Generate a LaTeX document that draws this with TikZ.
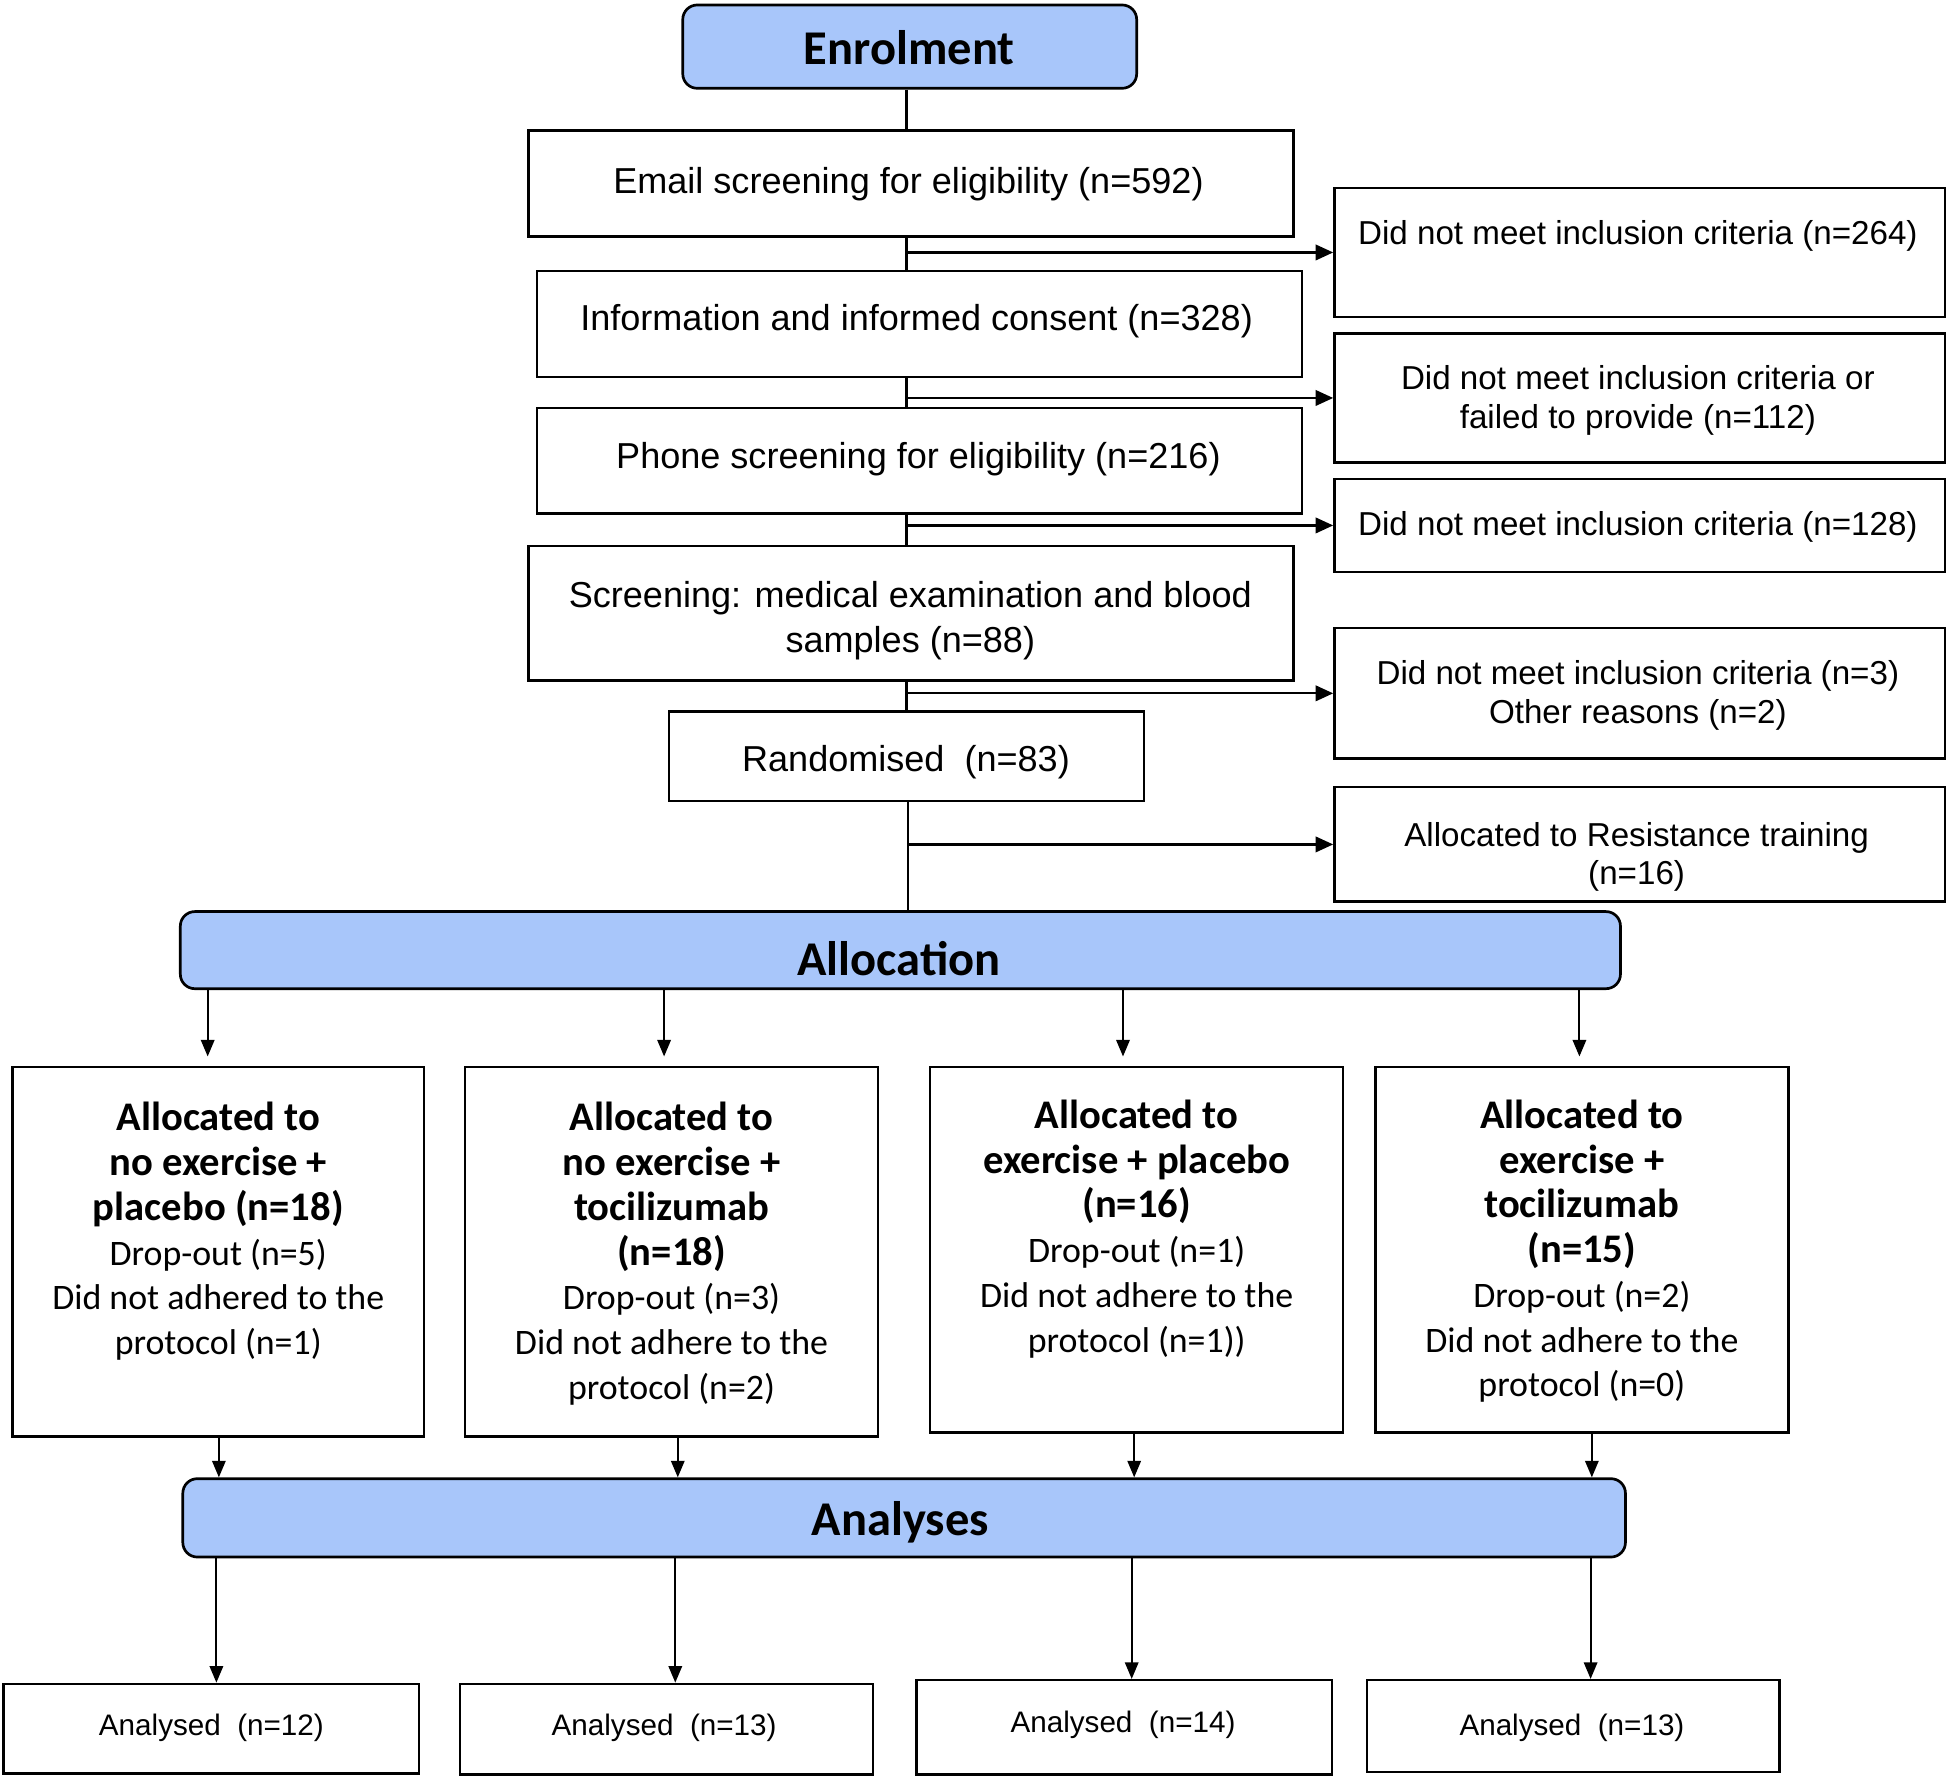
\documentclass[tikz,border=0pt]{standalone}
\usepackage{fontspec}
\setmainfont{Liberation Sans}
\newfontfamily\calfont{Carlito}
\usetikzlibrary{fit,arrows.meta}
\definecolor{hdblue}{RGB}{168,198,250}
\newcommand{\BL}[1]{{\bfseries\fontsize{19.6}{21.6}\selectfont #1}}
\begin{document}
\begin{tikzpicture}[x=0.6pt,y=-0.6pt,
  box/.style={draw, line width=1.2pt, inner sep=0pt, fill=white},
  hd/.style={draw, line width=1.3pt, rounded corners=7pt, fill=hdblue, inner sep=0pt},
  conn/.style={line width=1.1pt},
  arr/.style={line width=1.1pt, -{Triangle[length=8.5pt,width=7.5pt]}},
  arrs/.style={line width=0.9pt, -{Triangle[length=8pt,width=6.5pt]}},
  lt/.style={font=\fontsize{17.4}{21.6}\selectfont, inner sep=0pt, align=center},
  rt/.style={font=\fontsize{16}{18.6}\selectfont, inner sep=0pt, align=center},
  ht/.style={font=\calfont\bfseries\fontsize{23.4}{26}\selectfont, inner sep=0pt},
  albox/.style={font=\calfont\fontsize{17.3}{21.6}\selectfont, inner sep=0pt, align=center, anchor=north},
  ant/.style={font=\fontsize{14.3}{17}\selectfont, inner sep=0pt}]
\useasboundingbox (0,0) rectangle (1568,1431.3);

% Enrolment column
\node[hd, fit={(549,4)(914,71)}] (enrol) {};
\node[ht] (enrolt) at (731,38) {Enrolment};
\node[box, fit={(425,105)(1040,190)}] (email) {};
\node[lt] (emailt) at (730.5,148) {Email screening for eligibility (n=592)};
\node[box, fit={(432,218)(1047,303)}] (info) {};
\node[lt] (infot) at (737,258) {Information and informed consent (n=328)};
\node[box, fit={(432,328)(1047,413)}] (phone) {};
\node[lt] (phonet) at (738.5,369) {Phone screening for eligibility (n=216)};
\node[box, fit={(425,439)(1040,547)}] (scr) {};
\node[lt] (scrt) at (732,499) {Screening: medical examination and blood\\samples (n=88)};
\node[box, fit={(538,572)(920,644)}] (rand) {};
\node[lt] (randt) at (728.5,613) {Randomised\ \ (n=83)};

% Right column
\node[box, fit={(1073,151)(1564,255)}] (r1) {};
\node[rt] (r1t) at (1317,190) {Did not meet inclusion criteria (n=264)};
\node[box, fit={(1073,268)(1564,372)}] (r2) {};
\node[rt] (r2t) at (1317,322) {Did not meet inclusion criteria or\\failed to provide (n=112)};
\node[box, fit={(1073,385)(1564,460)}] (r3) {};
\node[rt] (r3t) at (1317,424) {Did not meet inclusion criteria (n=128)};
\node[box, fit={(1073,505)(1564,610)}] (r4) {};
\node[rt] (r4t) at (1317,559) {Did not meet inclusion criteria (n=3)\\Other reasons (n=2)};
\node[box, fit={(1073,633)(1564,725)}] (r5) {};
\node[rt] (r5t) at (1316,689) {Allocated to Resistance training\\(n=16)};

% Allocation
\node[hd, fit={(145,733)(1303,795)}] (alloc) {};
\node[ht] (alloct) at (723,771) {Allocation};

\node[box, fit={(10,858)(341,1155)}] (b1) {};
\node[albox] (b1t) at (175.5,886) {\BL{Allocated to}\\\BL{no exercise +}\\\BL{placebo (n=18)}\\Drop-out (n=5)\\Did not adhered to the\\protocol (n=1)};
\node[box, fit={(374,858)(706,1155)}] (b2) {};
\node[albox] (b2t) at (540,886) {\BL{Allocated to}\\\BL{no exercise +}\\\BL{tocilizumab}\\\BL{(n=18)}\\Drop-out (n=3)\\Did not adhere to the\\protocol (n=2)};
\node[box, fit={(748,858)(1080,1152)}] (b3) {};
\node[albox] (b3t) at (914,884) {\BL{Allocated to}\\\BL{exercise + placebo}\\\BL{(n=16)}\\Drop-out (n=1)\\Did not adhere to the\\protocol (n=1))};
\node[box, fit={(1106,858)(1438,1152)}] (b4) {};
\node[albox] (b4t) at (1272,884) {\BL{Allocated to}\\\BL{exercise +}\\\BL{tocilizumab}\\\BL{(n=15)}\\Drop-out (n=2)\\Did not adhere to the\\protocol (n=0)};

% Analyses
\node[hd, fit={(147,1189)(1307,1252)}] (anal) {};
\node[ht] (analt) at (724,1224) {Analyses};

\node[box, fit={(3,1354)(337,1426)}] (an1) {};
\node[ant] (an1t) at (170,1389) {Analysed\ \ (n=12)};
\node[box, fit={(370,1354)(702,1427)}] (an2) {};
\node[ant] (an2t) at (534,1389) {Analysed\ \ (n=13)};
\node[box, fit={(737,1351)(1071,1427)}] (an3) {};
\node[ant] (an3t) at (903,1387) {Analysed\ \ (n=14)};
\node[box, fit={(1099,1351)(1431,1425)}] (an4) {};
\node[ant] (an4t) at (1264,1389) {Analysed\ \ (n=13)};

% Connectors
\coordinate (sp) at (729,0);
\coordinate (sq) at (730,0);
\draw[conn] (enrol.south -| sp) -- (email.north -| sp);
\draw[conn] (email.south -| sp) -- (info.north -| sp);
\draw[conn] (info.south -| sp) -- (phone.north -| sp);
\draw[conn] (phone.south -| sp) -- (scr.north -| sp);
\draw[conn] (scr.south -| sp) -- (rand.north -| sp);
\draw[conn] (rand.south -| sq) -- (alloc.north -| sq);
\draw[arr] (r1.west -| sp) -- (r1.west);
\draw[arr] (r2.west -| sp) -- (r2.west);
\draw[arr] (r3.west -| sp) -- (r3.west);
\draw[arr] (r4.west -| sp) -- (r4.west);
\draw[arr] (r5.west -| sq) -- (r5.west);

\coordinate (ax1) at (167,0);
\coordinate (ax2) at (534,0);
\coordinate (ax3) at (903,0);
\coordinate (ax4) at (1270,0);
\draw[arrs, shorten >=4.5pt] (alloc.south -| ax1) -- (b1.north -| ax1);
\draw[arrs, shorten >=4.5pt] (alloc.south -| ax2) -- (b2.north -| ax2);
\draw[arrs, shorten >=4.5pt] (alloc.south -| ax3) -- (b3.north -| ax3);
\draw[arrs, shorten >=4.5pt] (alloc.south -| ax4) -- (b4.north -| ax4);

\coordinate (bx1) at (176,0);
\coordinate (bx2) at (545,0);
\coordinate (bx3) at (912,0);
\coordinate (bx4) at (1280,0);
\draw[arrs] (b1.south -| bx1) -- (anal.north -| bx1);
\draw[arrs] (b2.south -| bx2) -- (anal.north -| bx2);
\draw[arrs] (b3.south -| bx3) -- (anal.north -| bx3);
\draw[arrs] (b4.south -| bx4) -- (anal.north -| bx4);

\coordinate (cx1) at (174,0);
\coordinate (cx2) at (543,0);
\coordinate (cx3) at (910,0);
\coordinate (cx4) at (1279,0);
\draw[arrs] (anal.south -| cx1) -- (an1.north -| cx1);
\draw[arrs] (anal.south -| cx2) -- (an2.north -| cx2);
\draw[arrs] (anal.south -| cx3) -- (an3.north -| cx3);
\draw[arrs] (anal.south -| cx4) -- (an4.north -| cx4);
\end{tikzpicture}
\end{document}
